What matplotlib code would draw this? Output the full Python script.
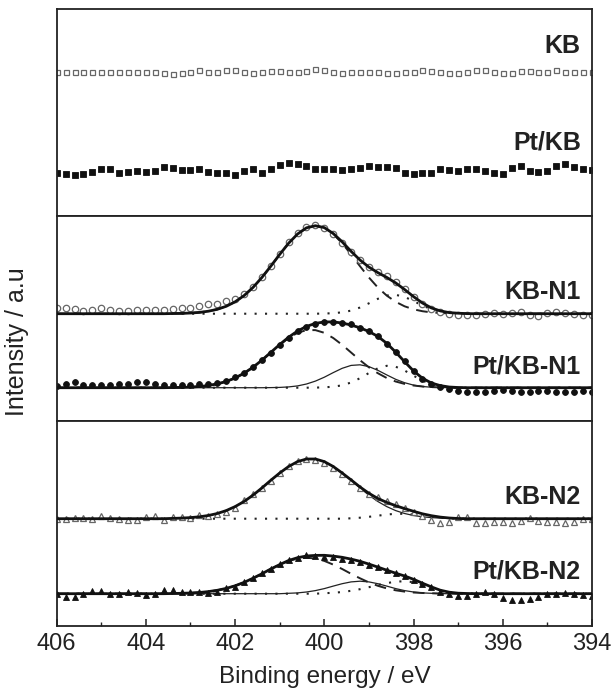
import matplotlib
matplotlib.use("Agg")
import matplotlib.pyplot as plt
import numpy as np

plt.rcParams['font.family'] = ['Liberation Sans', 'DejaVu Sans']

# binding energy grid of the measured points (eV), 0.2 eV steps
energy = np.linspace(406, 394, 61)

# ---- top panel: no nitrogen signal ----
kb = [144, 144, 144, 144, 144, 144, 144, 143.5, 144, 144,
      144, 144, 142.5, 142, 142.5, 144, 146, 144, 143.5, 145.5,
      145.5, 143.5, 143, 144, 145, 145, 144, 144, 144.5, 146.5,
      146, 144, 143, 144, 144, 144, 144, 143, 143, 143.5,
      144, 145.5, 145, 144, 143, 142.5, 144, 146, 146, 144,
      142.5, 142.5, 144.5, 145, 144, 144, 145.5, 144, 144, 144, 144]
pt_kb = [43, 42, 40.7, 42, 44, 46.3, 46.3, 43, 44, 44.7,
         44, 44.7, 48.7, 48, 45.3, 45.3, 46.3, 44, 43, 43,
         40.7, 44.7, 46.3, 43, 46.3, 50.7, 52.3, 52, 49.7, 46.3,
         46.3, 46.3, 45.3, 46.3, 48, 49.7, 49, 49, 48, 43,
         42, 43, 43, 46.3, 45.7, 44.7, 46.3, 47, 44.7, 43,
         41.3, 48, 49.7, 44.7, 43.7, 44.7, 49.7, 51.3, 48.7, 46.3, 46]

# ---- middle panel: N1 samples ----
kb_n1 = [112.5, 113, 111.5, 110, 110.5, 112.5, 111, 110, 110, 111,
         111, 110.5, 111, 112, 113, 113, 114.5, 117, 117, 119.5,
         122, 127, 134, 144, 155, 167, 179, 188, 193.5, 195.5,
         193, 187, 178, 169, 161, 154, 149, 144.5, 139, 131.5,
         124, 117, 112, 109, 107, 106, 106, 106, 106.5, 107.5,
         106.5, 107.5, 109, 106, 105, 108, 109, 108, 106.5, 106, 105.5]
pt_kb_n1 = [35, 36.5, 39, 36, 35.5, 35.5, 35.5, 36.5, 36.5, 38.5,
            38.5, 36.5, 35.5, 35.5, 35.5, 35.5, 36.5, 37, 38, 40,
            43.5, 48, 54, 61, 68, 75.5, 83, 89.5, 94, 96.5,
            98.5, 99, 98, 96.5, 93, 89.5, 85, 77, 69, 59.5,
            50, 42, 37, 34, 31.5, 30, 28.5, 28.5, 28.5, 30,
            31, 30, 28.5, 28.5, 30, 30, 28.5, 28.5, 28.5, 30, 29]

# ---- bottom panel: N2 samples ----
kb_n2 = [106.7, 106.4, 107.4, 107.4, 106.4, 109.7, 108, 106.4, 105.7, 105.7,
         109, 109.7, 105.7, 108.4, 108.4, 107.4, 110.7, 109.7, 111.7, 114,
         118, 125.5, 131.5, 138, 145, 153, 160, 164.5, 167, 165.5,
         163, 158, 152, 145, 138, 132, 129, 125, 121.5, 118,
         114, 110, 106, 103, 104, 108.4, 108.4, 102.4, 103, 104,
         104, 102.4, 105, 107.4, 105, 104, 104, 102.4, 104, 106.4, 106.4]
pt_kb_n2 = [31.7, 29, 28.4, 31.7, 35, 35, 31.7, 31.7, 34, 32.4,
            30.7, 31.7, 35.7, 35.7, 34, 34, 34, 32.4, 34, 37.4,
            39, 44, 48, 53, 57, 61.5, 65.5, 68, 70.5, 70,
            69, 68.5, 67, 65.5, 63.5, 61, 58.5, 56, 53, 50,
            46, 42, 38.5, 34, 32, 29.7, 29.7, 31.7, 34, 31.7,
            27.4, 25.7, 25.7, 26.4, 29, 31.7, 31.7, 32.4, 31.7, 31, 29.7]

# fitted curves, height above each baseline, 403.4 -> 396.4 eV (flat outside)
base_kb_n1, base_pt_n1, base_kb_n2, base_pt_n2 = 107, 33, 107, 32

kb_n1_env = [0.2, 0.3, 0.7, 1.3, 2.5, 4.4, 7.4, 11.9, 18.1, 26.2, 36.2, 47.5,
             59.3, 70.5, 79.7, 85.9, 88, 86.1, 80.2, 71.9, 62.4, 53.7, 46.6, 41.1,
             36.3, 30.8, 24.2, 17.1, 10.7, 5.8, 2.8, 1.1, 0.5, 0.1, 0, 0]
kb_n1_dash = [0.2, 0.3, 0.7, 1.3, 2.5, 4.4, 7.4, 11.9, 18.1, 26.2, 36.2, 47.5,
              59.3, 70.5, 79.7, 85.9, 88, 85.9, 79.7, 70.5, 59.3, 47.5, 36.2, 26.2,
              18.1, 11.9, 7.4, 4.4, 2.5, 1.3, 0.7, 0.3, 0.2, 0, 0, 0]
kb_n1_dot = [0, 0, 0, 0, 0, 0, 0, 0, 0, 0, 0, 0,
             0, 0, 0, 0, 0, 0.2, 0.5, 1.4, 3.1, 6.2, 10.4, 14.9,
             18.2, 18.9, 16.8, 12.7, 8.2, 4.5, 2.1, 0.8, 0.3, 0.1, 0, 0]

pt_n1_env = [0.2, 0.3, 0.6, 1.2, 2.2, 3.8, 6.2, 9.7, 14.5, 20.4, 27.5, 35.3,
             43.2, 50.5, 56.7, 61.3, 64.3, 65.8, 65.8, 64.7, 62.7, 59.9, 56.2, 51.3,
             44.4, 35.6, 26.0, 16.8, 9.5, 4.7, 2.1, 0.7, 0.2, 0, 0, 0]
pt_n1_dash = [0.2, 0.3, 0.6, 1.2, 2.2, 3.8, 6.2, 9.7, 14.5, 20.4, 27.5, 35.2,
              42.9, 49.7, 54.9, 57.6, 57.6, 54.9, 49.7, 42.9, 35.2, 27.5, 20.4, 14.5,
              9.7, 6.2, 3.8, 2.2, 1.2, 0.6, 0.3, 0.1, 0, 0, 0, 0]
pt_n1_thin = [0, 0, 0, 0, 0, 0, 0, 0, 0, 0, 0, 0.1,
              0.3, 0.8, 1.8, 3.7, 6.6, 10.5, 15.1, 19.4, 22.3, 22.9, 21.1, 17.4,
              12.8, 8.4, 5.0, 2.6, 1.2, 0.5, 0.2, 0, 0, 0, 0, 0]
pt_n1_dot = [0, 0, 0, 0, 0, 0, 0, 0, 0, 0, 0, 0,
             0, 0, 0, 0, 0.1, 0.4, 1.0, 2.4, 5.2, 9.5, 14.7, 19.4,
             21.9, 21.0, 17.2, 12.0, 7.1, 3.6, 1.6, 0.6, 0.2, 0, 0, 0]

kb_n2_env = [0.3, 0.6, 1.1, 1.9, 3.2, 5.2, 8.1, 12.1, 17.2, 23.5, 30.7, 38.4,
             45.7, 52.2, 57.1, 59.7, 59.7, 57.1, 52.2, 45.7, 38.8, 31.7, 25.4, 20.2,
             16.3, 13.0, 10.1, 7.4, 4.9, 3.0, 1.6, 0.7, 0.2, 0, 0, 0]
kb_n2_main = [0.3, 0.6, 1.1, 1.9, 3.2, 5.2, 8.1, 12.1, 17.2, 23.5, 30.7, 38.4,
              45.7, 52.2, 57.1, 59.7, 59.7, 57.1, 52.2, 45.7, 38.4, 30.7, 23.5, 17.2,
              12.1, 8.1, 5.2, 3.2, 1.9, 1.1, 0.6, 0.3, 0.1, 0, 0, 0]
kb_n2_dot = [0, 0, 0, 0, 0, 0, 0, 0, 0, 0, 0, 0,
             0, 0, 0, 0, 0, 0, 0, 0, 0.4, 1.0, 1.9, 3.0,
             4.2, 4.9, 4.9, 4.2, 3.0, 1.9, 1.0, 0.4, 0.1, 0, 0, 0]

pt_n2_env = [0.2, 0.4, 0.7, 1.2, 2.1, 3.4, 5.3, 7.9, 11.3, 15.4, 19.9, 24.7,
             29.1, 33.2, 36.0, 37.7, 38.3, 38.4, 37.6, 36.4, 34.6, 32.4, 29.6, 26.6,
             23.5, 20.5, 17.7, 14.4, 10.5, 6.8, 3.5, 1.5, 0.5, 0.2, 0, 0]
pt_n2_dash = [0.2, 0.4, 0.7, 1.2, 2.1, 3.4, 5.3, 7.9, 11.3, 15.4, 19.9, 24.7,
              29.1, 32.8, 35.2, 36, 35.2, 32.8, 29.1, 24.7, 19.9, 15.4, 11.3, 7.9,
              5.3, 3.4, 2.1, 1.2, 0.7, 0.4, 0.2, 0.1, 0, 0, 0, 0]
pt_n2_thin = [0, 0, 0, 0, 0, 0, 0, 0, 0, 0, 0, 0,
              0, 0.4, 0.8, 1.7, 3.1, 5.1, 7.6, 10.0, 11.8, 12.5, 11.8, 10.0,
              7.6, 5.1, 3.1, 1.7, 0.8, 0.4, 0.1, 0, 0, 0, 0, 0]
pt_n2_dot = [0, 0, 0, 0, 0, 0, 0, 0, 0, 0, 0, 0,
             0, 0, 0, 0, 0, 0.5, 0.9, 1.7, 2.9, 4.5, 6.5, 8.7,
             10.6, 12.0, 12.5, 11.5, 9.0, 6.0, 3.2, 1.4, 0.5, 0.2, 0, 0]

labels = ['KB', 'Pt/KB', 'KB-N1', 'Pt/KB-N1', 'KB-N2', 'Pt/KB-N2']
label_heights = [170, 73, 129, 54, 129, 54]


def full(window):
    # fit window covers grid points 13..48, the rest is flat baseline
    return np.concatenate([np.zeros(13), np.array(window), np.zeros(12)])


def data(ax, y, marker, filled, ms):
    if filled:
        ax.plot(energy, y, ls='none', marker=marker, ms=ms, mfc='#111111',
                mec='#111111', mew=0.6, zorder=2)
    else:
        ax.plot(energy, y, ls='none', marker=marker, ms=ms, mfc='white',
                mec='#666666', mew=0.9, zorder=2)


def fit(ax, base, env, parts):
    for comp, style in parts:
        if style == 'dash':
            ax.plot(energy, base + full(comp), color='#222222', lw=1.4,
                    dashes=(6, 4), zorder=1)
        elif style == 'dot':
            ax.plot(energy, base + full(comp), color='#222222', lw=1.5,
                    ls=(0, (1, 4)), zorder=1)
        else:
            ax.plot(energy, base + full(comp), color='#222222', lw=0.9, zorder=1)
    ax.plot(energy, base + full(env), color='#111111', lw=2.0, zorder=3)


fig = plt.figure(figsize=(6.14, 6.97), dpi=100)
left, width = 0.0923, 0.8718
ax_top = fig.add_axes([left, 0.6905, width, 0.2962])
ax_mid = fig.add_axes([left, 0.3964, width, 0.2941])
ax_bot = fig.add_axes([left, 0.1023, width, 0.2941])

data(ax_top, kb, 's', False, 3.6)
data(ax_top, pt_kb, 's', True, 3.8)

data(ax_mid, kb_n1, 'o', False, 4.6)
fit(ax_mid, base_kb_n1, kb_n1_env, [(kb_n1_dash, 'dash'), (kb_n1_dot, 'dot')])
data(ax_mid, pt_kb_n1, 'o', True, 4.2)
fit(ax_mid, base_pt_n1, pt_n1_env,
    [(pt_n1_dash, 'dash'), (pt_n1_thin, 'thin'), (pt_n1_dot, 'dot')])

data(ax_bot, kb_n2, '^', False, 4.8)
fit(ax_bot, base_kb_n2, kb_n2_env, [(kb_n2_main, 'thin'), (kb_n2_dot, 'dot')])
data(ax_bot, pt_kb_n2, '^', True, 4.6)
fit(ax_bot, base_pt_n2, pt_n2_env,
    [(pt_n2_dash, 'dash'), (pt_n2_thin, 'thin'), (pt_n2_dot, 'dot')])

panels = [ax_top, ax_top, ax_mid, ax_mid, ax_bot, ax_bot]
for ax, txt, h in zip(panels, labels, label_heights):
    ax.text(394.25, h, txt, ha='right', va='center', fontsize=18,
            fontweight='bold', color='#222222')

for ax in [ax_top, ax_mid, ax_bot]:
    ax.set_xlim(406, 394)
    ax.set_ylim(0, 205)
    for sp in ax.spines.values():
        sp.set_linewidth(1.3)
        sp.set_color('#222222')
    ax.set_yticks([])
ax_top.set_ylim(0, 206.4)

for ax in [ax_top, ax_mid]:
    ax.set_xticks([])

ax_bot.set_xticks(np.arange(406, 393, -2))
ax_bot.set_xticks(np.arange(405, 394, -2), minor=True)
ax_bot.tick_params(axis='x', which='major', direction='in', length=5, width=1.1,
                   labelsize=17, pad=5, colors='#222222')
ax_bot.tick_params(axis='x', which='minor', direction='in', length=3, width=1.0,
                   colors='#222222')
ax_bot.set_xlabel('Binding energy / eV', fontsize=17.5, labelpad=8, color='#222222')
fig.text(0.027, 0.51, 'Intensity / a.u', rotation=90, ha='center', va='center',
         fontsize=18, color='#222222')

fig.savefig('out.png', dpi=100)
